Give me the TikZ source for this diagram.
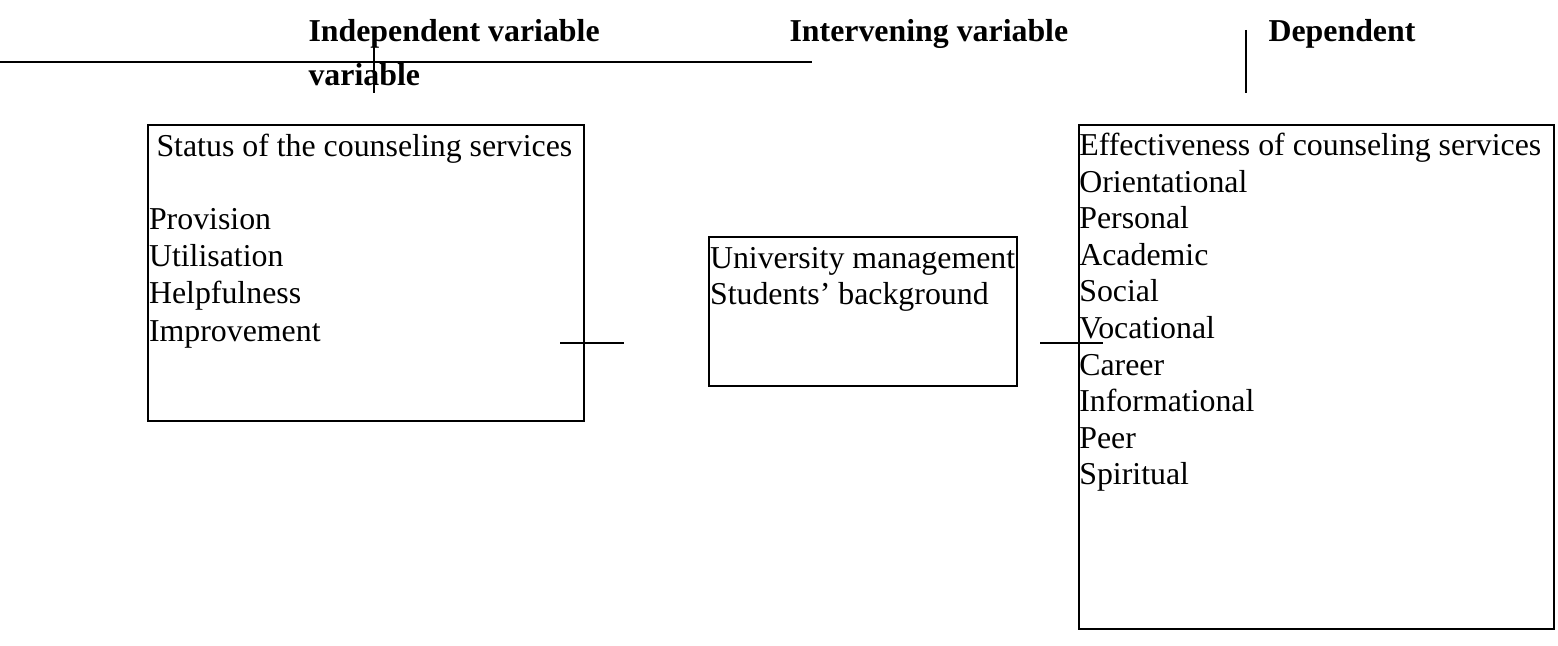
\documentclass[tikz,border=0pt]{standalone}
\usepackage{fontspec}
\setmainfont{Liberation Serif}
\usepackage{tikz}
\def\u{0.37677pt}
\tikzset{
  cadre/.style={draw,line width=0.7pt,inner sep=0pt,anchor=north west},
  texte/.style={inner sep=0pt,anchor=base west,font=\fontsize{12}{14}\selectfont},
  titre/.style={texte,font=\fontsize{12}{14}\selectfont\bfseries},
  trait/.style={line width=0.7pt}
}

\begin{document}
\begin{tikzpicture}[x=\u,y=-\u]
  \useasboundingbox (0,0) rectangle (1558,646);

  % titres des colonnes
  \node[titre] (indep) at (308,42) {Independent variable};
  \node[titre] (indep2) at (308,86) {variable};
  \node[titre] (interv) at (789,42) {Intervening variable};
  \node[titre] (dep) at (1268,42) {Dependent};
  \draw[trait] (0,61.7) -- (811.5,61.7);
  \draw[trait] (374,39) -- (374,93);
  \draw[trait] (1245.7,30) -- (1245.7,93);

  % variable independante
  \node[cadre,minimum width=436*\u,minimum height=296*\u] (statut) at (147.3,124) {};
  \node[texte] (statutT) at (156,157) {Status of the counseling services};
  \foreach \w [count=\i] in {Provision,Utilisation,Helpfulness,Improvement}
    \node[texte] (s\i) at (148.5,192+37.3*\i) {\w};

  % variable intervenante
  \node[cadre,minimum width=308*\u,minimum height=149*\u] (gestion) at (708.3,236) {};
  \node[texte] (g1) at (709.5,268.5) {University management};
  \node[texte] (g2) at (709.5,305) {Students’ background};

  % variable dependante
  \node[cadre,minimum width=474.5*\u,minimum height=503.7*\u] (effic) at (1078.3,124) {};
  \node[texte] (efficT) at (1078.8,155.5) {Effectiveness of counseling services};
  \foreach \w [count=\i] in {Orientational,Personal,Academic,Social,Vocational,Career,Informational,Peer,Spiritual}
    \node[texte] (e\i) at (1078.8,155.5+36.6*\i) {\w};

  % petits traits
  \draw[trait] (560,342.7) -- (624,342.7);
  \draw[trait] (1040,342.7) -- (1103,342.7);
\end{tikzpicture}
\end{document}
